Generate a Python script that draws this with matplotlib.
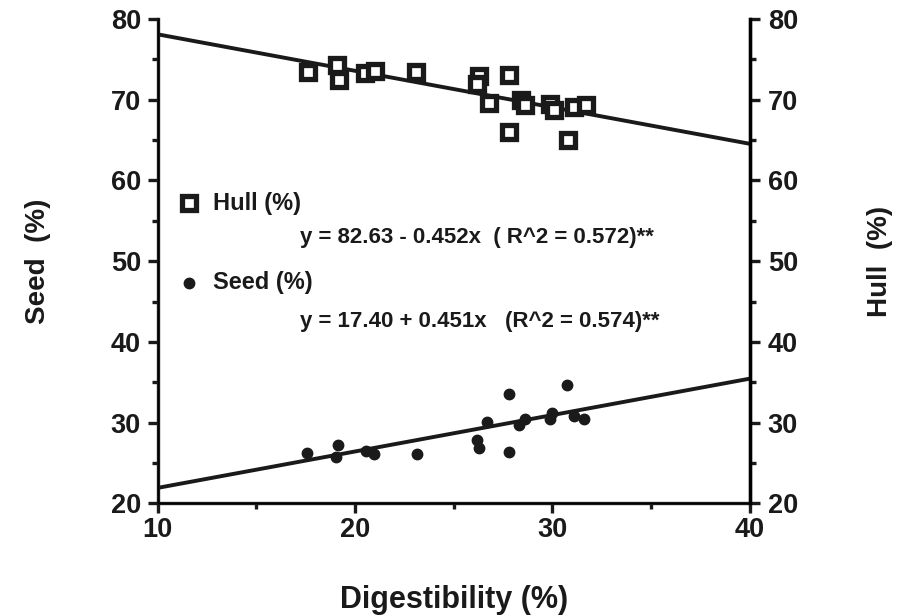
import matplotlib
matplotlib.use("Agg")
import matplotlib.pyplot as plt
import numpy as np
from matplotlib.ticker import MultipleLocator

plt.rcParams['font.family'] = ['Liberation Sans', 'DejaVu Sans']
plt.rcParams['font.weight'] = 'bold'

# Digestibility (%) and the seed / hull fractions measured for each sample
hull_x = [17.6, 19.1, 19.2, 20.5, 21.0, 23.1, 26.3, 26.2, 26.8, 27.8, 27.8,
          28.4, 28.6, 29.9, 30.1, 30.8, 31.1, 31.7]
hull_y = [73.5, 74.3, 72.5, 73.3, 73.6, 73.5, 73.0, 72.0, 69.6, 73.1, 66.0,
          70.0, 69.3, 69.5, 68.7, 65.0, 69.1, 69.3]
seed_x = [17.55, 19.15, 19.05, 20.55, 20.95, 23.15, 26.2, 26.3, 26.7, 27.8,
          27.8, 28.3, 28.6, 29.9, 30.0, 30.75, 31.1, 31.6]
seed_y = [26.25, 27.2, 25.7, 26.5, 26.1, 26.05, 27.8, 26.8, 30.1, 33.6,
          26.4, 29.7, 30.5, 30.4, 31.2, 34.7, 30.8, 30.4]

# Fitted regressions
hull_a, hull_b = 82.63, -0.452
seed_a, seed_b = 17.40, 0.451
fit_x = np.array([10, 40])

INK = '#1a1a1a'
fig = plt.figure(figsize=(9.12, 6.16), dpi=100)
ax = fig.add_axes([0.173, 0.183, 0.649, 0.786])

ax.plot(fit_x, hull_a + hull_b * fit_x, color=INK, lw=2.8, zorder=2)
ax.plot(fit_x, seed_a + seed_b * fit_x, color=INK, lw=2.8, zorder=2)

ax.plot(hull_x, hull_y, ls='none', marker='s', ms=10, mfc='white', mec=INK,
        mew=3.8, zorder=3)
ax.plot(seed_x, seed_y, ls='none', marker='o', ms=7.5, mfc=INK, mec=INK,
        zorder=3)

ax.set_xlim(10, 40)
ax.set_ylim(20, 80)
ax.spines['top'].set_visible(False)
for s in ['left', 'right', 'bottom']:
    ax.spines[s].set_linewidth(2.4)
    ax.spines[s].set_color(INK)

ax.xaxis.set_major_locator(MultipleLocator(10))
ax.xaxis.set_minor_locator(MultipleLocator(5))
ax.yaxis.set_major_locator(MultipleLocator(10))
ax.yaxis.set_minor_locator(MultipleLocator(5))
ax.tick_params(which='major', direction='out', length=7, width=2.4, labelsize=19.5,
               color=INK, labelcolor=INK)
ax.tick_params(which='minor', direction='out', length=4, width=2.4, color=INK)
ax.tick_params(axis='x', which='major', pad=3)
ax.tick_params(axis='y', which='major', pad=5)
ax.tick_params(axis='y', which='both', left=True, right=False)

ax2 = ax.twinx()
ax2.set_ylim(20, 80)
ax2.spines['top'].set_visible(False)
ax2.spines['right'].set_linewidth(2.4)
ax2.yaxis.set_major_locator(MultipleLocator(10))
ax2.yaxis.set_minor_locator(MultipleLocator(5))
ax2.tick_params(which='major', direction='out', length=7, width=2.4, labelsize=19.5,
                pad=6, color=INK, labelcolor=INK)
ax2.tick_params(which='minor', direction='out', length=4, width=2.4, color=INK)

for lab in ax.get_xticklabels() + ax.get_yticklabels() + ax2.get_yticklabels():
    lab.set_fontweight('bold')

ax.set_xlabel('Digestibility (%)', fontsize=22, fontweight='bold', labelpad=30,
              color=INK)
fig.text(0.042, 0.575, 'Seed  (%)', rotation=90, fontsize=20, fontweight='bold',
         ha='center', va='center', color=INK)
fig.text(0.965, 0.575, 'Hull  (%)', rotation=90, fontsize=20, fontweight='bold',
         ha='center', va='center', color=INK)

# Legend with regression equations
ax.plot([11.6], [57.2], marker='s', ms=10, mfc='white', mec=INK, mew=3.8,
        clip_on=False)
ax.text(12.8, 57.2, 'Hull (%)', fontsize=17, fontweight='bold', va='center',
        color=INK)
ax.text(17.2, 52.9, 'y = 82.63 - 0.452x  ( R^2 = 0.572)**', fontsize=16,
        fontweight='bold', va='center', color=INK)
ax.plot([11.6], [47.3], marker='o', ms=7.5, mfc=INK, mec=INK)
ax.text(12.8, 47.3, 'Seed (%)', fontsize=17, fontweight='bold', va='center',
        color=INK)
ax.text(17.2, 42.5, 'y = 17.40 + 0.451x   (R^2 = 0.574)**', fontsize=16,
        fontweight='bold', va='center', color=INK)

fig.savefig('out.png', dpi=100)
